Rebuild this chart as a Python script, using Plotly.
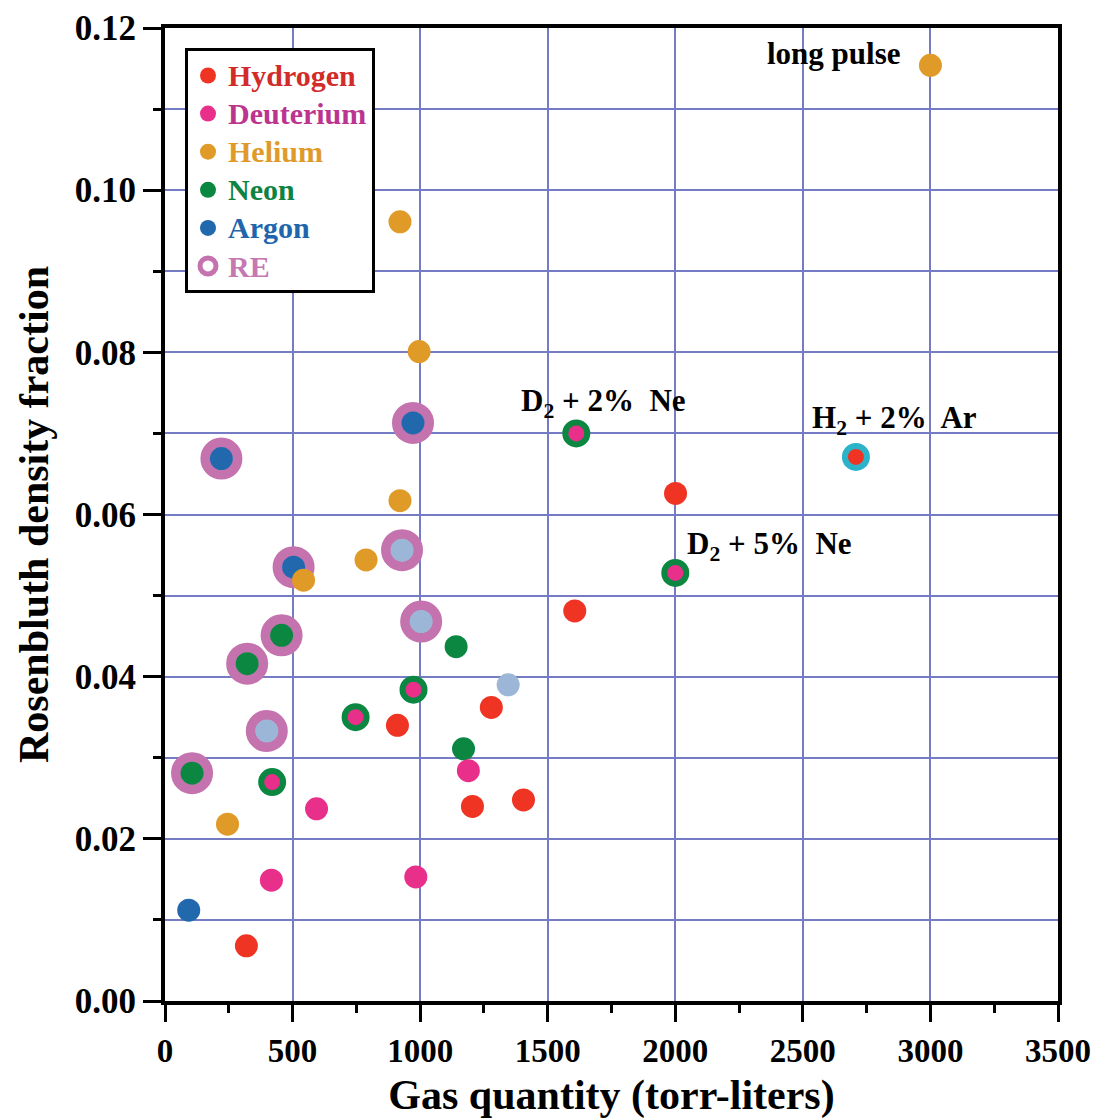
import plotly.graph_objects as go

# ---- data ----
hyd_x = [319, 911, 1205, 1279, 1405, 1606, 2001]
hyd_y = [0.0068, 0.0340, 0.0240, 0.0362, 0.0248, 0.0481, 0.0626]

deu_x = [417, 594, 983, 1189]
deu_y = [0.0149, 0.0237, 0.0153, 0.0284]

# deuterium + neon mixtures (pink core, green ring)
dne_x = [420, 747, 974, 1612, 2000]
dne_y = [0.0270, 0.0350, 0.0384, 0.0700, 0.0528]

# hydrogen + argon mixture (red core, cyan ring)
har_x = [2708]
har_y = [0.0671]

hel_x = [3000, 921, 996, 921, 788, 543, 245]
hel_y = [0.1154, 0.0961, 0.0801, 0.0617, 0.0544, 0.0519, 0.0218]

neo_x = [106, 322, 457, 1141, 1170]
neo_y = [0.0281, 0.0416, 0.0451, 0.0437, 0.0311]

arg_x = [221, 972, 504, 93]
arg_y = [0.0669, 0.0713, 0.0535, 0.0112]

# light-blue points (not in legend)
lbl_x = [929, 1004, 399, 1345]
lbl_y = [0.0556, 0.0468, 0.0333, 0.0390]

# runaway-electron (RE) rings
re_x = [221, 972, 504, 929, 1004, 399, 106, 322, 457]
re_y = [0.0669, 0.0713, 0.0535, 0.0556, 0.0468, 0.0333, 0.0281, 0.0416, 0.0451]

ann_text = ["long pulse", "D<sub>2</sub> + 2%  Ne", "D<sub>2</sub> + 5%  Ne", "H<sub>2</sub> + 2%  Ar"]
ann_x = [2893, 1388, 2040, 2529]
ann_y = [0.1168, 0.0738, 0.0561, 0.0716]
ann_anchor = ["right", "left", "left", "left"]

C_H = "#EF3424"
C_D = "#E8308A"
C_HE = "#E09A28"
C_NE = "#0B8742"
C_AR = "#2268AD"
C_LB = "#9BB6D7"
C_RE = "#C473AE"
C_CY = "#2BB3C9"
GRID = "#757CC3"
FONT = "Liberation Serif"

def lab(txt, col):
    return f"<span style='color:{col};font-size:30px'>{txt}</span>"

MS = 23
fig = go.Figure()

fig.add_trace(go.Scatter(x=re_x, y=re_y, mode="markers", name=lab("RE", "#C678B2"), legendrank=6,
                         marker=dict(symbol="circle-open", size=32, color=C_RE, line=dict(width=10, color=C_RE))))
fig.add_trace(go.Scatter(x=lbl_x, y=lbl_y, mode="markers", showlegend=False,
                         marker=dict(size=MS, color=C_LB, line=dict(width=0))))
fig.add_trace(go.Scatter(x=arg_x, y=arg_y, mode="markers", name=lab("Argon", "#2166AC"), legendrank=5,
                         marker=dict(size=MS, color=C_AR, line=dict(width=0))))
fig.add_trace(go.Scatter(x=neo_x, y=neo_y, mode="markers", name=lab("Neon", "#0E8342"), legendrank=4,
                         marker=dict(size=MS, color=C_NE, line=dict(width=0))))
fig.add_trace(go.Scatter(x=dne_x, y=dne_y, mode="markers", showlegend=False,
                         marker=dict(size=22, color=C_D, line=dict(width=6, color=C_NE))))
fig.add_trace(go.Scatter(x=deu_x, y=deu_y, mode="markers", name=lab("Deuterium", "#BC3490"), legendrank=2,
                         marker=dict(size=MS, color=C_D, line=dict(width=0))))
fig.add_trace(go.Scatter(x=hyd_x, y=hyd_y, mode="markers", name=lab("Hydrogen", "#D22C2A"), legendrank=1,
                         marker=dict(size=MS, color=C_H, line=dict(width=0))))
fig.add_trace(go.Scatter(x=har_x, y=har_y, mode="markers", showlegend=False,
                         marker=dict(size=22, color=C_H, line=dict(width=6, color=C_CY))))
fig.add_trace(go.Scatter(x=hel_x, y=hel_y, mode="markers", name=lab("Helium", "#E09A2A"), legendrank=3,
                         marker=dict(size=MS, color=C_HE, line=dict(width=0))))

for t, xv, yv, a in zip(ann_text, ann_x, ann_y, ann_anchor):
    fig.add_annotation(x=xv, y=yv, text=t, showarrow=False, xanchor=a, yanchor="middle",
                       font=dict(family=FONT, size=31, color="black", weight="bold"))

fig.update_layout(
    width=1107, height=1119,
    margin=dict(l=165, r=49, t=28, b=118),
    plot_bgcolor="white", paper_bgcolor="white",
    font=dict(family=FONT, color="black", weight="bold"),
    showlegend=True,
    legend=dict(x=0.0224, y=0.979, xanchor="left", yanchor="top",
                bgcolor="white", bordercolor="black", borderwidth=3,
                font=dict(family=FONT, size=27, weight="bold"),
                itemsizing="trace", tracegroupgap=0),
)

fig.update_xaxes(
    range=[0, 3500], tick0=0, dtick=500, ticks="outside", ticklen=17, tickwidth=3, tickcolor="black",
    showline=True, linewidth=4, linecolor="black", mirror=True, automargin=False,
    showgrid=True, gridcolor=GRID, gridwidth=1.5, zeroline=False,
    minor=dict(dtick=250, ticks="outside", ticklen=8, tickwidth=3, tickcolor="black", showgrid=False),
    tickfont=dict(family=FONT, size=33, weight="bold"),
    title=dict(text="Gas quantity (torr-liters)", font=dict(family=FONT, size=42, weight="bold"), standoff=16),
)
fig.update_yaxes(
    range=[0, 0.12], tick0=0, dtick=0.02, tickformat=".2f", ticks="outside", ticklen=18, tickwidth=3,
    tickcolor="black", showline=True, linewidth=4, linecolor="black", mirror=True, automargin=False,
    showgrid=True, gridcolor=GRID, gridwidth=1.5, zeroline=False,
    minor=dict(dtick=0.01, ticks="outside", ticklen=8, tickwidth=3, tickcolor="black",
               showgrid=True, gridcolor=GRID, gridwidth=1.5),
    tickfont=dict(family=FONT, size=35, weight="bold"),
    title=dict(text="Rosenbluth density fraction", font=dict(family=FONT, size=42, weight="bold"), standoff=14),
)

fig.write_html("out.html")
